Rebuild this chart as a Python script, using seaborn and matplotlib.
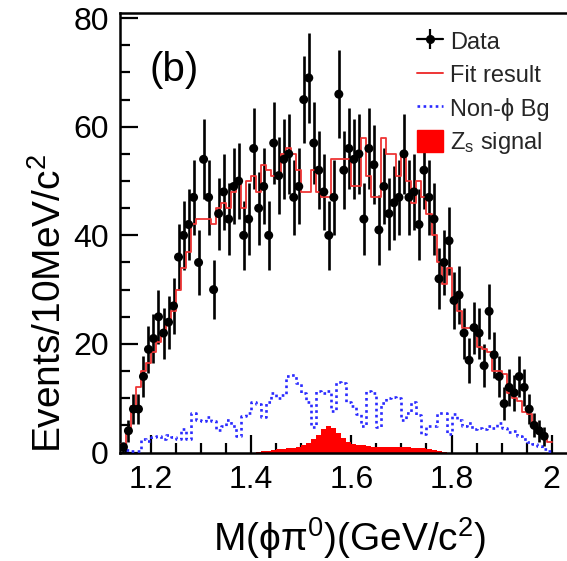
import numpy as np
import pandas as pd
import matplotlib
matplotlib.use("Agg")
import matplotlib.pyplot as plt
from matplotlib.lines import Line2D
from matplotlib.patches import Patch
from matplotlib.ticker import MultipleLocator
import seaborn as sns

# Binning of the M(phi pi0) spectrum: 10 MeV bins starting at 1.14 GeV
bin_start = 1.14
bin_width = 0.01

# Observed events per bin
data_counts = [1, 4, 8, 8, 14, 19, 21, 25, 22, 24,
               27, 36, 40, 42, 47, 35, 54, 47, 30, 44,
               48, 43, 49, 50, 40, 43, 56, 45, 49, 40,
               57, 51, 54, 55, 47, 49, 65, 69, 57, 52,
               48, 40, 47, 66, 52, 56, 54, 55, 43, 56,
               53, 41, 49, 44, 46, 47, 55, 47, 48, 42,
               52, 47, 43, 32, 35, 39, 28, 29, 22, 17,
               23, 22, 16, 26, 18, 14, 9, 12, 11, 14,
               12, 8, 5, 4, 3]

# Total fit result per bin
fit_result = [1.5, 4, 8.5, 12, 15, 16.5, 18.6, 20.4, 22.2, 24,
              26, 30, 34, 37, 42, 43, 43, 43, 42, 45,
              46, 45, 48, 50, 45, 50, 51, 48, 53, 52,
              51, 51, 55, 56, 55, 52, 48, 48, 52, 48,
              47, 47, 54, 54, 54, 54, 49, 49, 58, 51,
              47, 47, 58, 55, 55, 51, 55, 50, 46, 50,
              47, 44, 40, 35, 31, 34, 28, 26, 23, 23,
              23, 19.5, 19, 18.5, 15, 15, 14.5, 11, 10, 9.5,
              7.5, 7, 5.5, 4.2, 3.5, 2]

# Non-phi background per bin
non_phi_bg = [0.7, 0.5, 0.2, 0.2, 2.4, 2.2, 2.8, 3.0, 2.4, 3.2,
              2.8, 2.4, 4.4, 2.4, 7.3, 6.0, 5.8, 6.5, 5.8, 4.2,
              4.8, 6.0, 4.8, 3.0, 6.8, 7.2, 9.3, 9.0, 6.5, 9.3,
              11, 10, 10.5, 14, 14.3, 12.8, 11, 9.3, 4.7, 11.3,
              11, 11.3, 7.6, 13, 12.8, 9.3, 8.6, 7, 4.8, 11.3,
              11, 4.7, 9.2, 10, 10.3, 10, 6, 7.3, 9.3, 6.9,
              3.5, 4.8, 4.8, 7.3, 7.3, 3.5, 7, 6, 4.8, 5.4,
              4.4, 4.6, 4.4, 4.8, 4.6, 5.4, 4.6, 3.8, 4, 3,
              2.4, 1.9, 1.6, 1.2, 0.7, 0.3]

# Zs signal component per bin
zs_signal = [0, 0, 0, 0, 0, 0, 0, 0, 0, 0,
             0, 0, 0, 0, 0, 0, 0, 0, 0, 0,
             0, 0, 0, 0, 0, 0, 0, 0.1, 0.2, 0.3,
             0.5, 0.6, 0.7, 0.8, 0.9, 1.1, 1.3, 1.8, 2.4, 3.3,
             4.3, 4.8, 4.5, 3.6, 2.6, 2.0, 1.6, 1.4, 1.3, 1.2,
             1.1, 1.0, 1.0, 1.0, 1.0, 1.0, 1.0, 1.0, 0.9, 0.9,
             0.8, 0.6, 0.4, 0.2, 0.1, 0, 0, 0, 0, 0,
             0, 0, 0, 0, 0, 0, 0, 0, 0, 0,
             0, 0, 0, 0, 0, 0]

x_ticks = [1.2, 1.4, 1.6, 1.8, 2.0]
x_ticklabels = ["1.2", "1.4", "1.6", "1.8", "2"]
y_ticks = [0, 20, 40, 60, 80]

n_fit = len(fit_result)
edges = bin_start + bin_width * np.arange(n_fit + 1)
centers = edges[:-1] + bin_width / 2
hist_range = (float(edges[0]), float(edges[-1]))

df_data = pd.DataFrame({"mass": centers[:len(data_counts)],
                        "events": data_counts})
df_data["err"] = np.sqrt(df_data["events"])
df_comp = pd.DataFrame({"mass": centers, "fit": fit_result,
                        "bg": non_phi_bg, "sig": zs_signal})

sns.set_theme(style="ticks")
plt.rcParams["font.family"] = ["Liberation Sans", "DejaVu Sans"]
plt.rcParams["mathtext.fontset"] = "custom"
plt.rcParams["mathtext.rm"] = "Liberation Sans"
plt.rcParams["mathtext.it"] = "Liberation Sans"
plt.rcParams["mathtext.default"] = "regular"

RED_LINE = "#ee3535"
RED_FILL = "#ff0000"
BLUE = "#2a2aff"
DOTS = (0, (1, 1.3))

fig = plt.figure(figsize=(5.67, 5.61), dpi=100)
ax = fig.add_axes([0.2116, 0.1934, 0.799, 0.7829])

hist_kws = dict(x="mass", bins=n_fit, binrange=hist_range,
                element="step", ax=ax)

# Zs signal (filled histogram)
sns.histplot(data=df_comp, weights="sig", fill=True, color=RED_FILL,
             alpha=1.0, linewidth=0, zorder=2, **hist_kws)

# Non-phi background (dotted step)
sns.histplot(data=df_comp, weights="bg", fill=False, color=BLUE,
             linewidth=1.9, linestyle=DOTS, zorder=3, **hist_kws)

# Data with statistical errors
ax.errorbar(df_data["mass"], df_data["events"], yerr=df_data["err"],
            fmt="none", ecolor="black", elinewidth=1.9, capsize=0, zorder=4)

# Total fit result (step)
sns.histplot(data=df_comp, weights="fit", fill=False, color=RED_LINE,
             linewidth=1.3, zorder=5, **hist_kws)

sns.scatterplot(data=df_data, x="mass", y="events", color="black",
                s=42, edgecolor="none", ax=ax, zorder=6)

ax.set_xlim(1.1381, 2.0425)
ax.set_ylim(0, 80.9)
ax.set_xticks(x_ticks)
ax.set_xticklabels(x_ticklabels)
ax.set_yticks(y_ticks)
ax.xaxis.set_minor_locator(MultipleLocator(0.05))
ax.yaxis.set_minor_locator(MultipleLocator(5))

ax.tick_params(axis="both", which="both", direction="in", width=1.6,
               colors="black", labelsize=23, top=False, right=False)
ax.tick_params(axis="both", which="major", length=13)
ax.tick_params(axis="both", which="minor", length=7)
ax.tick_params(axis="x", which="major", pad=9)
ax.tick_params(axis="y", which="major", pad=8)

for side in ["left", "bottom", "top", "right"]:
    ax.spines[side].set_visible(True)
    ax.spines[side].set_linewidth(1.8)
    ax.spines[side].set_color("black")

ax.set_xlabel("M(\u03d5\u03c0$^{0}$)(GeV/c$^{2}$)", fontsize=28,
              color="black")
ax.set_ylabel("Events/10MeV/c$^{2}$", fontsize=28, color="black")
ax.xaxis.set_label_coords(0.508, -0.142)
ax.yaxis.set_label_coords(-0.112, 0.34)

ax.text(0.066, 0.871, "(b)", transform=ax.transAxes, fontsize=29,
        ha="left", va="center", color="black")

# Legend
h_data = (Line2D([], [], color="black", lw=1.6),
          Line2D([], [], color="black", marker="|", markersize=15,
                 markeredgewidth=1.6, linestyle="none"),
          Line2D([], [], color="black", marker="o", markersize=5.5,
                 linestyle="none"))
h_fit = Line2D([], [], color=RED_LINE, lw=1.4)
h_bg = Line2D([], [], color=BLUE, lw=1.9, linestyle=DOTS)
h_sig = Patch(facecolor=RED_FILL, edgecolor=RED_FILL)
ax.legend([h_data, h_fit, h_bg, h_sig],
          ["Data", "Fit result", "Non-\u03d5 Bg", "Z$_{s}$ signal"],
          loc="upper left", bbox_to_anchor=(0.655, 0.963),
          frameon=False, fontsize=17, borderpad=0, borderaxespad=0,
          handlelength=1.1, handleheight=1.1, handletextpad=0.3,
          labelspacing=0.38)

fig.savefig("out.png", dpi=100, facecolor="white")
